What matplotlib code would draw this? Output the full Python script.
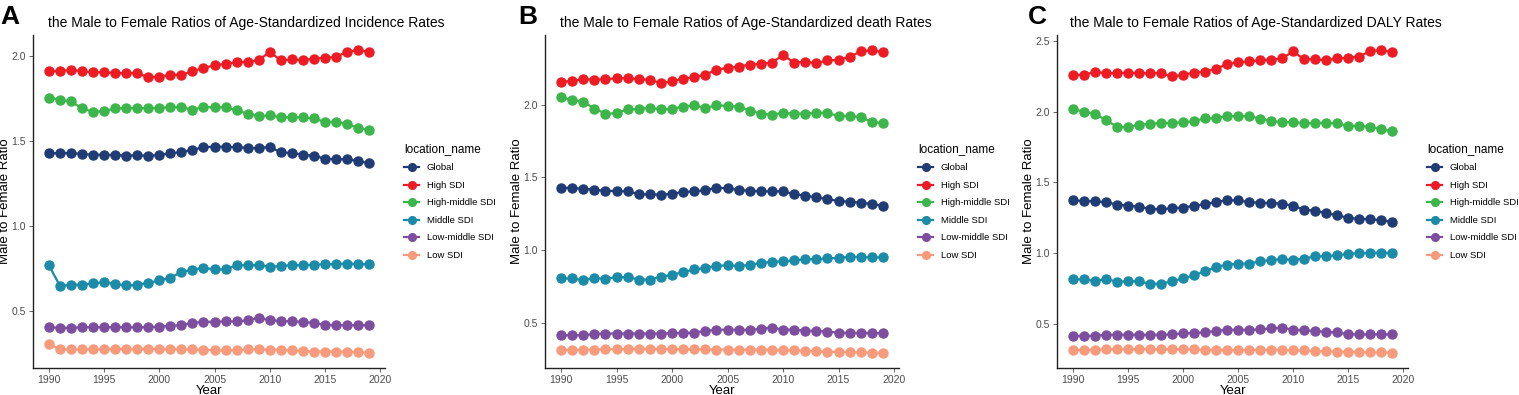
import matplotlib
matplotlib.use("Agg")
import matplotlib.pyplot as plt

plt.rcParams['font.family'] = ['Liberation Sans', 'DejaVu Sans']

# Datos
years = list(range(1990, 2020))
locations = ["Global", "High SDI", "High-middle SDI", "Middle SDI", "Low-middle SDI", "Low SDI"]
colors = ["#1f3c74", "#ed1c24", "#3cb54a", "#1b8ba8", "#7d4e9e", "#f79b7c"]

titles = ["the Male to Female Ratios of Age-Standardized Incidence Rates",
          "the Male to Female Ratios of Age-Standardized death Rates",
          "the Male to Female Ratios of Age-Standardized DALY Rates"]
letters = ["A", "B", "C"]

# Panel A - incidencia
inc_global = [1.43, 1.428, 1.43, 1.424, 1.42, 1.42, 1.418, 1.413, 1.417, 1.413, 1.418, 1.428, 1.436, 1.448, 1.464,
              1.468, 1.466, 1.464, 1.46, 1.458, 1.466, 1.434, 1.43, 1.42, 1.413, 1.397, 1.393, 1.393, 1.383, 1.37]
inc_high = [1.915, 1.91, 1.92, 1.91, 1.905, 1.905, 1.90, 1.90, 1.90, 1.875, 1.878, 1.89, 1.89, 1.91, 1.93,
            1.945, 1.955, 1.963, 1.967, 1.975, 2.025, 1.975, 1.98, 1.975, 1.985, 1.99, 1.995, 2.025, 2.035, 2.025]
inc_highmid = [1.756, 1.743, 1.733, 1.692, 1.672, 1.676, 1.692, 1.694, 1.694, 1.694, 1.694, 1.70, 1.70, 1.684, 1.70,
               1.698, 1.70, 1.68, 1.662, 1.645, 1.652, 1.64, 1.64, 1.64, 1.633, 1.613, 1.613, 1.60, 1.578, 1.564]
inc_mid = [0.768, 0.647, 0.655, 0.655, 0.663, 0.669, 0.659, 0.651, 0.653, 0.665, 0.68, 0.696, 0.73, 0.743, 0.755,
           0.745, 0.745, 0.77, 0.77, 0.77, 0.761, 0.765, 0.77, 0.77, 0.773, 0.775, 0.777, 0.779, 0.777, 0.775]
inc_lowmid = [0.405, 0.401, 0.401, 0.405, 0.405, 0.405, 0.405, 0.405, 0.405, 0.405, 0.409, 0.413, 0.417, 0.429, 0.437,
              0.437, 0.439, 0.439, 0.445, 0.46, 0.445, 0.443, 0.439, 0.437, 0.43, 0.419, 0.417, 0.417, 0.417, 0.417]
inc_low = [0.309, 0.274, 0.274, 0.274, 0.274, 0.276, 0.278, 0.278, 0.278, 0.278, 0.276, 0.276, 0.274, 0.274, 0.272,
           0.27, 0.268, 0.27, 0.274, 0.276, 0.272, 0.272, 0.268, 0.266, 0.262, 0.262, 0.262, 0.26, 0.258, 0.254]

# Panel B - muertes
dea_global = [1.429, 1.427, 1.422, 1.415, 1.408, 1.406, 1.404, 1.385, 1.383, 1.381, 1.388, 1.399, 1.404, 1.411, 1.429,
              1.424, 1.413, 1.408, 1.404, 1.404, 1.404, 1.385, 1.374, 1.362, 1.351, 1.337, 1.333, 1.326, 1.317, 1.303]
dea_high = [2.156, 2.163, 2.174, 2.172, 2.174, 2.181, 2.181, 2.174, 2.17, 2.147, 2.16, 2.179, 2.188, 2.206, 2.239,
            2.252, 2.261, 2.275, 2.28, 2.289, 2.339, 2.289, 2.294, 2.284, 2.303, 2.307, 2.328, 2.365, 2.374, 2.36]
dea_highmid = [2.05, 2.032, 2.021, 1.972, 1.938, 1.94, 1.968, 1.97, 1.977, 1.968, 1.97, 1.986, 1.995, 1.977, 1.995,
               1.991, 1.986, 1.959, 1.938, 1.931, 1.943, 1.938, 1.938, 1.945, 1.942, 1.922, 1.922, 1.913, 1.881, 1.872]
dea_mid = [0.805, 0.805, 0.794, 0.807, 0.803, 0.814, 0.814, 0.798, 0.798, 0.817, 0.83, 0.849, 0.867, 0.878, 0.89,
           0.897, 0.89, 0.899, 0.911, 0.92, 0.922, 0.929, 0.938, 0.938, 0.943, 0.947, 0.954, 0.954, 0.95, 0.95]
dea_lowmid = [0.415, 0.415, 0.415, 0.424, 0.427, 0.427, 0.427, 0.427, 0.427, 0.427, 0.429, 0.431, 0.433, 0.445, 0.452,
              0.454, 0.452, 0.452, 0.459, 0.468, 0.454, 0.454, 0.447, 0.445, 0.44, 0.433, 0.431, 0.431, 0.431, 0.429]
dea_low = [0.312, 0.314, 0.314, 0.317, 0.319, 0.319, 0.321, 0.323, 0.321, 0.321, 0.321, 0.319, 0.319, 0.319, 0.317,
           0.317, 0.314, 0.317, 0.317, 0.317, 0.312, 0.312, 0.307, 0.305, 0.301, 0.301, 0.298, 0.298, 0.296, 0.294]

# Panel C - DALY
daly_global = [1.373, 1.37, 1.366, 1.361, 1.344, 1.337, 1.328, 1.314, 1.311, 1.318, 1.323, 1.335, 1.347, 1.361, 1.375,
               1.373, 1.361, 1.358, 1.354, 1.351, 1.335, 1.309, 1.3, 1.283, 1.269, 1.25, 1.243, 1.241, 1.233, 1.222]
daly_high = [2.259, 2.259, 2.281, 2.271, 2.271, 2.276, 2.271, 2.271, 2.271, 2.248, 2.259, 2.276, 2.283, 2.302, 2.335,
             2.347, 2.354, 2.363, 2.366, 2.375, 2.425, 2.37, 2.37, 2.361, 2.375, 2.38, 2.389, 2.427, 2.434, 2.42]
daly_highmid = [2.017, 2.0, 1.986, 1.939, 1.894, 1.889, 1.908, 1.913, 1.92, 1.92, 1.925, 1.932, 1.953, 1.953, 1.969,
                1.967, 1.969, 1.95, 1.936, 1.925, 1.927, 1.917, 1.92, 1.922, 1.917, 1.899, 1.899, 1.894, 1.875, 1.863]
daly_mid = [0.816, 0.816, 0.804, 0.818, 0.8, 0.802, 0.802, 0.785, 0.785, 0.802, 0.823, 0.844, 0.873, 0.903, 0.92,
            0.927, 0.927, 0.943, 0.953, 0.958, 0.953, 0.962, 0.979, 0.979, 0.986, 0.995, 1.002, 1.002, 1.005, 1.002]
daly_lowmid = [0.417, 0.417, 0.417, 0.425, 0.425, 0.425, 0.425, 0.425, 0.425, 0.427, 0.434, 0.439, 0.441, 0.453, 0.46,
               0.46, 0.46, 0.462, 0.469, 0.476, 0.46, 0.458, 0.45, 0.446, 0.441, 0.429, 0.427, 0.427, 0.427, 0.427]
daly_low = [0.316, 0.318, 0.318, 0.321, 0.321, 0.323, 0.325, 0.325, 0.323, 0.323, 0.323, 0.321, 0.318, 0.318, 0.318,
            0.316, 0.316, 0.318, 0.318, 0.318, 0.314, 0.314, 0.309, 0.307, 0.305, 0.305, 0.302, 0.3, 0.3, 0.297]

panels = [
    [inc_global, inc_high, inc_highmid, inc_mid, inc_lowmid, inc_low],
    [dea_global, dea_high, dea_highmid, dea_mid, dea_lowmid, dea_low],
    [daly_global, daly_high, daly_highmid, daly_mid, daly_lowmid, daly_low],
]

W, H = 1519, 395
fig = plt.figure(figsize=(W / 100, H / 100), dpi=100)

# posiciones en pixeles: inicio del panel, eje izq, eje der
panel_px = [(0, 33, 385), (500, 545, 899), (1010, 1057, 1408)]
top_px, bot_px = 35, 368

for i, (series, (p0, l, r)) in enumerate(zip(panels, panel_px)):
    ax = fig.add_axes([l / W, 1 - bot_px / H, (r - l) / W, (bot_px - top_px) / H])
    for name, vals, c in zip(locations, series, colors):
        ax.plot(years, vals, color=c, lw=1.6, marker='o', ms=6.5, label=name)
    ax.margins(x=0.05, y=0.05)
    ax.set_xticks([1990, 1995, 2000, 2005, 2010, 2015, 2020])
    ax.set_yticks([0.5, 1.0, 1.5, 2.0] + ([2.5] if i == 2 else []))
    ax.set_yticklabels([f"{v:.1f}" for v in ax.get_yticks()])
    for s in ['top', 'right']:
        ax.spines[s].set_visible(False)
    for s in ['left', 'bottom']:
        ax.spines[s].set_linewidth(1.0)
        ax.spines[s].set_color('#222222')
    ax.tick_params(axis='both', labelsize=7.5, colors='#4d4d4d', length=3, width=0.6, pad=2)
    ax.set_xlabel("Year", fontsize=9.5, labelpad=0)
    ax.set_ylabel("Male to Female Ratio", fontsize=9.5)
    # el eje y: borde derecho del texto ~22 px a la izquierda del eje
    ax.yaxis.set_label_coords(-22 / (r - l), 0.5)
    leg = ax.legend(loc='center left', bbox_to_anchor=(1.03, 0.5), frameon=False,
                    title="location_name", fontsize=6.8, title_fontsize=8.5,
                    handlelength=1.6, markerscale=0.85, labelspacing=0.9, alignment='left')
    fig.text((p0 + 246) / W, 1 - 23 / H, titles[i], fontsize=10, ha='center', va='center')
    fig.text((p0 + (18 if i else 0)) / W, 1 - 5 / H, letters[i], fontsize=19, fontweight='bold',
             va='top', ha='left')

fig.savefig("out.png", dpi=100)
